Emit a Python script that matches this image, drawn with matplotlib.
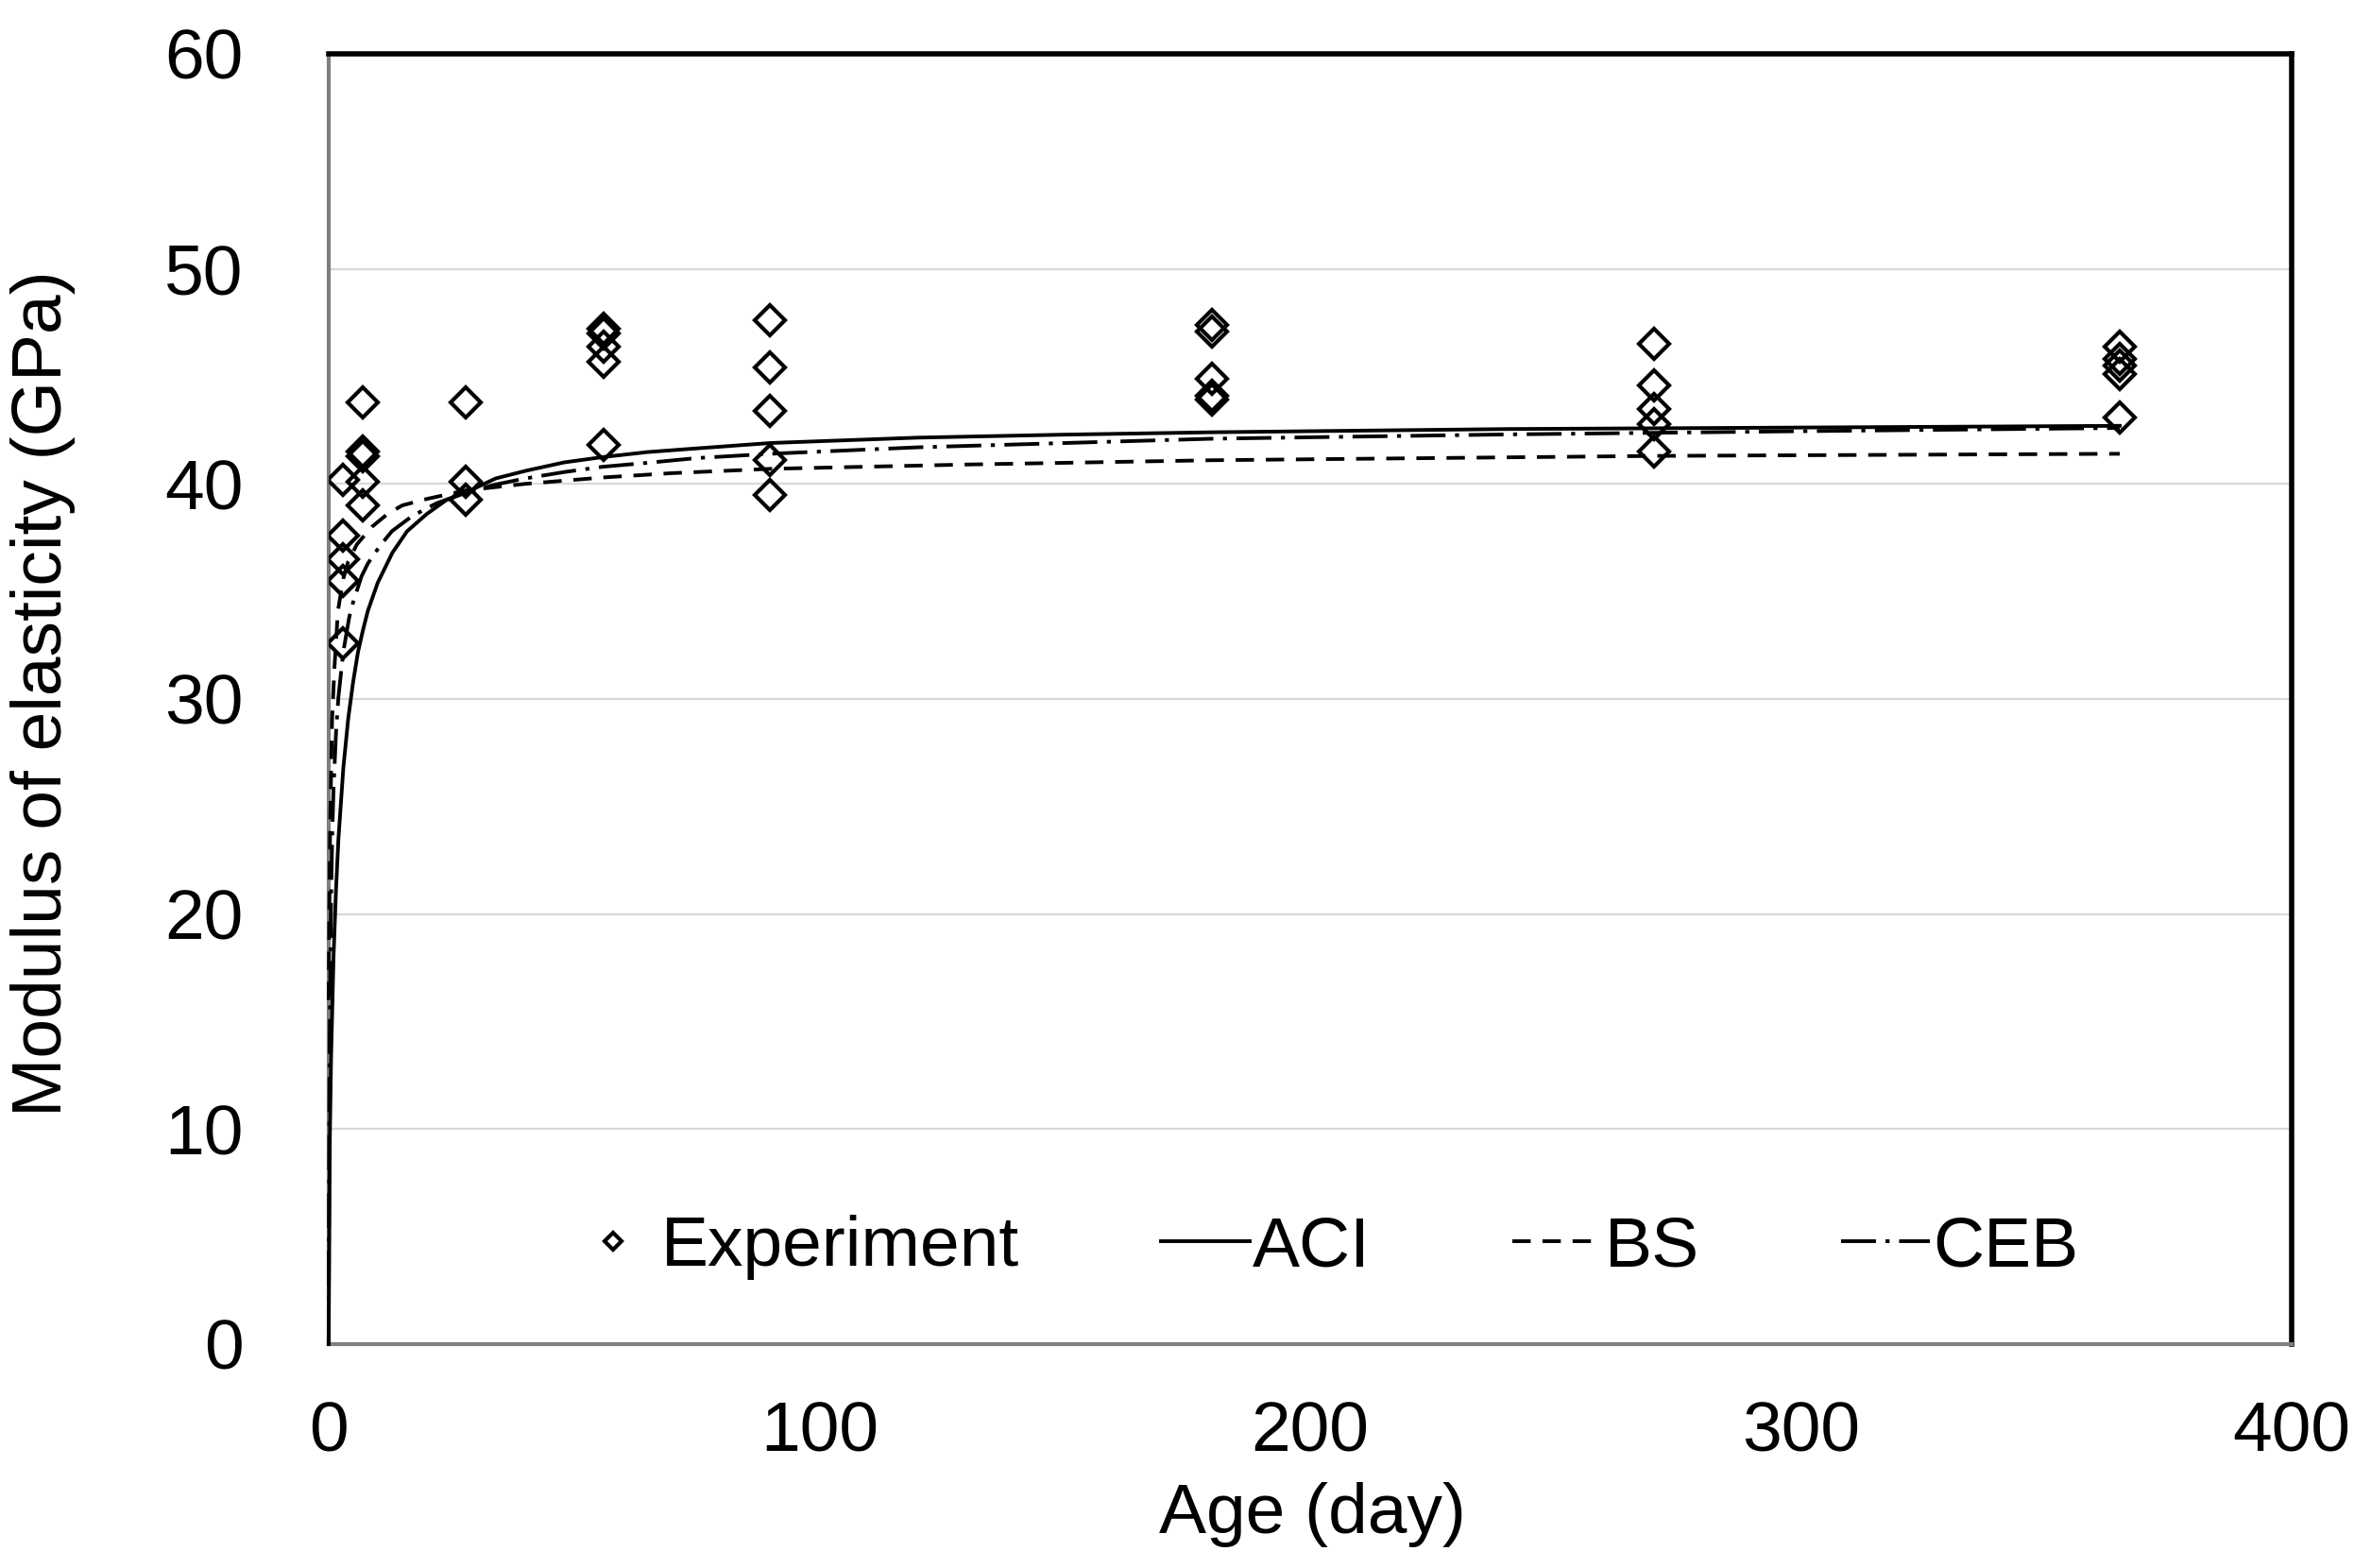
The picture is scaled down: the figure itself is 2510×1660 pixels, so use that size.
import matplotlib
matplotlib.use("Agg")
import matplotlib.pyplot as plt

plt.rcParams['font.family'] = ['Liberation Sans', 'DejaVu Sans']

# experiment: age (day) and measured modulus (GPa)
exp_age = [3, 3, 3, 3, 3,
           7, 7, 7, 7, 7,
           28, 28, 28,
           56, 56, 56, 56, 56,
           90, 90, 90, 90, 90,
           180, 180, 180, 180, 180,
           270, 270, 270, 270, 270,
           365, 365, 365, 365, 365]
exp_E = [40.2, 37.6, 36.5, 35.5, 32.6,
         43.8, 41.5, 41.3, 40.1, 39.0,
         43.8, 40.1, 39.25,
         47.2, 47.0, 46.4, 45.7, 41.8,
         47.6, 45.4, 43.4, 41.1, 39.5,
         47.4, 47.1, 44.9, 44.1, 43.9,
         46.5, 44.6, 43.5, 42.8, 41.5,
         46.4, 45.8, 45.5, 45.1, 43.1]

# model curves
aci_t = [0, 0.25, 0.5, 1, 1.5, 2, 3, 4, 5, 6, 7, 8, 10, 13, 16, 20, 24, 28,
         34, 40, 48, 56, 65, 75, 90, 120, 150, 180, 240, 300, 365]
aci_E = [0, 9.6, 13.3, 18.0, 21.1, 23.5, 26.8, 29.1, 30.8, 32.2, 33.2, 34.1,
         35.4, 36.8, 37.8, 38.6, 39.25, 39.6, 40.25, 40.6, 41.0, 41.25, 41.48,
         41.65, 41.9, 42.15, 42.29, 42.4, 42.55, 42.62, 42.7]

bs_t = [0, 0.3, 0.7, 1.2, 1.9, 3, 4, 5.8, 8.8, 12, 15, 20, 24, 28, 34, 40, 48,
        56, 70, 90, 130, 180, 270, 365]
bs_E = [16.0, 24.0, 29.0, 31.5, 34.1, 35.6, 36.4, 37.2, 38.0, 38.6, 39.0, 39.3,
        39.5, 39.7, 39.85, 40.0, 40.15, 40.3, 40.5, 40.7, 40.9, 41.1, 41.3,
        41.4]

ceb_t = [0, 0.02, 0.05, 0.1, 0.2, 0.35, 0.5, 0.75, 1, 1.5, 2, 3, 4.2, 5, 6.7,
         8, 10.4, 12.9, 17, 22, 28, 34, 40, 48, 56, 65, 75, 90, 120, 150, 180,
         240, 300, 365]
ceb_E = [0, 1.0, 4.1, 8.2, 13.4, 17.9, 20.7, 23.8, 25.8, 28.4, 30.1, 32.2, 33.8,
         34.5, 35.7, 36.3, 37.1, 37.8, 38.5, 39.1, 39.6, 39.97, 40.25, 40.55,
         40.8, 40.98, 41.2, 41.4, 41.7, 41.9, 42.1, 42.3, 42.45, 42.6]

fig = plt.figure(figsize=(25.1, 16.6), dpi=100)
ax = fig.add_axes([0.1386, 0.1428, 0.8279, 0.8229])

ax.plot(exp_age, exp_E, linestyle='none', marker='D', markersize=16,
        mfc='none', mec='black', mew=3.0, label='Experiment', zorder=4)
ax.plot(aci_t, aci_E, color='black', lw=2.8, label='ACI', zorder=3, clip_on=False)
ax.plot(bs_t, bs_E, color='black', lw=2.8, linestyle=(0, (5.0, 3.2)),
        label='BS', zorder=3, clip_on=False)
ax.plot(ceb_t, ceb_E, color='black', lw=2.8,
        linestyle=(0, (9.5, 2.6, 1.1, 2.6)), label='CEB', zorder=3,
        clip_on=False)

ax.set_xlim(0, 400)
ax.set_ylim(0, 60)
ax.set_xticks([0, 100, 200, 300, 400])
ax.set_yticks([0, 10, 20, 30, 40, 50, 60])
ax.tick_params(axis='both', length=0, labelsize=54)
ax.tick_params(axis='y', pad=65)
ax.tick_params(axis='x', pad=43)

ax.yaxis.grid(True, color='#d9d9d9', lw=1.6)
ax.set_axisbelow(True)

for s in ['top', 'right']:
    ax.spines[s].set_color('black')
    ax.spines[s].set_linewidth(4)
for s in ['left', 'bottom']:
    ax.spines[s].set_color('#7f7f7f')
    ax.spines[s].set_linewidth(3)

ax.set_xlabel('Age (day)', fontsize=54)
ax.set_ylabel('Modulus of elasticity (GPa)', fontsize=54)
ax.xaxis.set_label_coords(0.501, -0.107)
ax.yaxis.set_label_coords(-0.129, 0.504)

ax.legend(loc='center', bbox_to_anchor=(0.507, 0.075), ncol=4, frameon=False,
          fontsize=54, handlelength=1.25, handletextpad=0.05,
          columnspacing=2.0, markerscale=0.55, borderpad=0)

fig.savefig('out.png', dpi=100)
